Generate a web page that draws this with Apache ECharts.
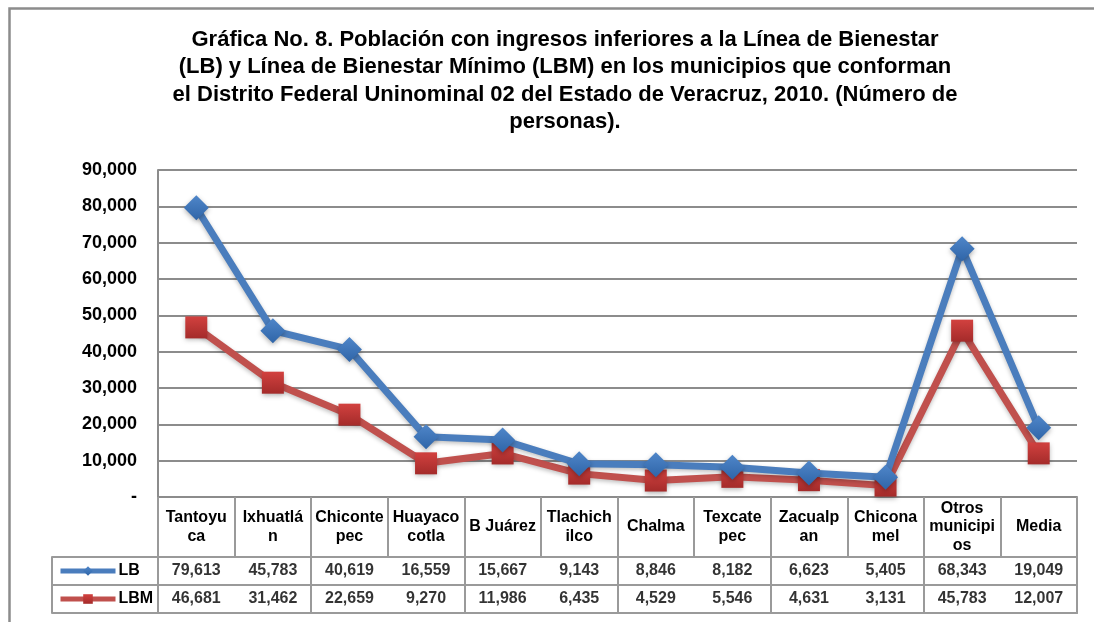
<!DOCTYPE html>
<html>
<head>
<meta charset="utf-8">
<script src="https://cdn.jsdelivr.net/npm/echarts@6/dist/echarts.min.js"></script>
<style>
html,body{margin:0;padding:0;background:#fff;}
#chart{width:1094px;height:622px;}
</style>
</head>
<body>
<div id="chart"></div>
<script>
// ---- data ----
const categories = ['Tantoyuca','Ixhuatlán','Chicontepec','Huayacocotla','B Juárez','Tlachichilco','Chalma','Texcatepec','Zacualpan','Chiconamel','Otros municipios','Media'];
const categoryLabels = ['Tantoyu\nca','Ixhuatlá\nn','Chiconte\npec','Huayaco\ncotla','B Juárez','Tlachich\nilco','Chalma','Texcate\npec','Zacualp\nan','Chicona\nmel','Otros\nmunicipi\nos','Media'];
const lbValues = [79613, 45783, 40619, 16559, 15667, 9143, 8846, 8182, 6623, 5405, 68343, 19049];
const lbmValues = [46681, 31462, 22659, 9270, 11986, 6435, 4529, 5546, 4631, 3131, 45783, 12007];
const seriesNames = ['LB', 'LBM'];
const titleText = 'Gráfica No. 8. Población con ingresos inferiores a la Línea de Bienestar\n(LB) y Línea de Bienestar Mínimo (LBM) en los municipios que conforman\nel Distrito Federal Uninominal 02 del Estado de Veracruz, 2010. (Número de\npersonas).';

const fmt = v => Number(v).toLocaleString('en-US');
const gridColor = '#8c8c8c';
const tableColor = '#9a9a9a';
const blue = '#4a7dbd';
const red = '#c0504d';

const tableData = [];
lbValues.forEach((v, i) => tableData.push([i, 0, v]));
lbmValues.forEach((v, i) => tableData.push([i, 1, v]));

const chart = echarts.init(document.getElementById('chart'));
chart.setOption({
  backgroundColor: '#fff',
  animation: false,
  textStyle: { fontFamily: 'Liberation Sans, Arial, sans-serif' },
  title: {
    text: titleText,
    left: 560,
    textAlign: 'center',
    top: 21,
    textStyle: { fontSize: 22, fontWeight: 'bold', color: '#000', lineHeight: 27.5, fontFamily: 'Liberation Sans, Arial, sans-serif' }
  },
  graphic: [{
    type: 'rect', left: 7, top: 6, silent: true,
    shape: { width: 1300, height: 800 },
    style: { fill: 'none', stroke: '#8c8c8c', lineWidth: 2.5 }
  }],
  legend: {
    data: seriesNames,
    orient: 'vertical',
    left: 58, top: 563, padding: 0,
    itemWidth: 55, itemHeight: 12, itemGap: 12,
    lineStyle: { width: 5 },
    textStyle: { fontSize: 16, fontWeight: 'bold', color: '#000', padding: [0, 0, 0, -2] }
  },
  grid: [
    { left: 158, right: 17, top: 170, bottom: 125 },
    { left: 158, right: 17, top: 557, height: 56 }
  ],
  xAxis: [
    {
      type: 'category', gridIndex: 0, data: categories, boundaryGap: true,
      axisLine: { show: true, lineStyle: { color: gridColor, width: 2 } },
      axisTick: { show: true, length: 60, lineStyle: { color: tableColor, width: 2 } },
      axisLabel: {
        interval: 0, margin: 30, verticalAlign: 'middle',
        fontSize: 16, fontWeight: 'bold', color: '#000', lineHeight: 18.5,
        formatter: (v, i) => categoryLabels[i]
      },
      splitLine: { show: false }
    },
    {
      type: 'category', gridIndex: 1, data: categories, boundaryGap: true,
      axisLine: { show: true, lineStyle: { color: tableColor, width: 2 } },
      axisTick: { show: false },
      axisLabel: { show: false },
      splitLine: { show: true, lineStyle: { color: tableColor, width: 2 } }
    }
  ],
  yAxis: [
    {
      type: 'value', gridIndex: 0, min: 0, max: 90000, interval: 10000,
      axisLine: { show: true, lineStyle: { color: gridColor, width: 2 } },
      axisTick: { show: false },
      axisLabel: {
        margin: 21, fontSize: 18, fontWeight: 'bold', color: '#000',
        formatter: v => v === 0 ? '-' : fmt(v)
      },
      splitLine: { show: true, lineStyle: { color: gridColor, width: 2 } }
    },
    {
      type: 'category', gridIndex: 1, data: seriesNames, inverse: true, boundaryGap: true,
      axisLine: { show: true, lineStyle: { color: tableColor, width: 2 } },
      axisTick: { show: true, length: 106, lineStyle: { color: tableColor, width: 2 } },
      axisLabel: { show: false },
      splitLine: { show: true, lineStyle: { color: tableColor, width: 2 } }
    },
    {
      type: 'category', gridIndex: 1, data: seriesNames, inverse: true, position: 'left', offset: 106,
      axisLine: { show: true, lineStyle: { color: tableColor, width: 2 } },
      axisTick: { show: false }, axisLabel: { show: false }, splitLine: { show: false }
    },
    {
      type: 'category', gridIndex: 1, data: seriesNames, inverse: true, position: 'right',
      axisLine: { show: true, lineStyle: { color: tableColor, width: 2 } },
      axisTick: { show: false }, axisLabel: { show: false }, splitLine: { show: false }
    }
  ],
  series: [
    {
      name: 'LB', type: 'line', xAxisIndex: 0, yAxisIndex: 0, data: lbValues,
      symbol: 'diamond', symbolSize: 25,
      lineStyle: { color: blue, width: 7, shadowColor: 'rgba(0,0,0,0.25)', shadowBlur: 4, shadowOffsetY: 2 },
      itemStyle: {
        color: new echarts.graphic.LinearGradient(0, 0, 0, 1, [{ offset: 0, color: '#4f86c9' }, { offset: 1, color: '#2f65a8' }]),
        shadowColor: 'rgba(0,0,0,0.3)', shadowBlur: 5, shadowOffsetY: 2
      },
      z: 3
    },
    {
      name: 'LBM', type: 'line', xAxisIndex: 0, yAxisIndex: 0, data: lbmValues,
      symbol: 'rect', symbolSize: 22,
      lineStyle: { color: red, width: 7, shadowColor: 'rgba(0,0,0,0.25)', shadowBlur: 4, shadowOffsetY: 2 },
      itemStyle: {
        color: new echarts.graphic.LinearGradient(0, 0, 0, 1, [{ offset: 0, color: '#d2413f' }, { offset: 1, color: '#a42b2a' }]),
        shadowColor: 'rgba(0,0,0,0.3)', shadowBlur: 5, shadowOffsetY: 2
      },
      z: 2
    },
    {
      name: 'table', type: 'scatter', xAxisIndex: 1, yAxisIndex: 1, data: tableData,
      symbolSize: 1, silent: true,
      itemStyle: { color: 'rgba(0,0,0,0)' },
      label: {
        show: true, position: 'inside', fontSize: 16, fontWeight: 'bold', color: '#000',
        formatter: p => fmt(p.value[2])
      }
    }
  ]
});
</script>
</body>
</html>
